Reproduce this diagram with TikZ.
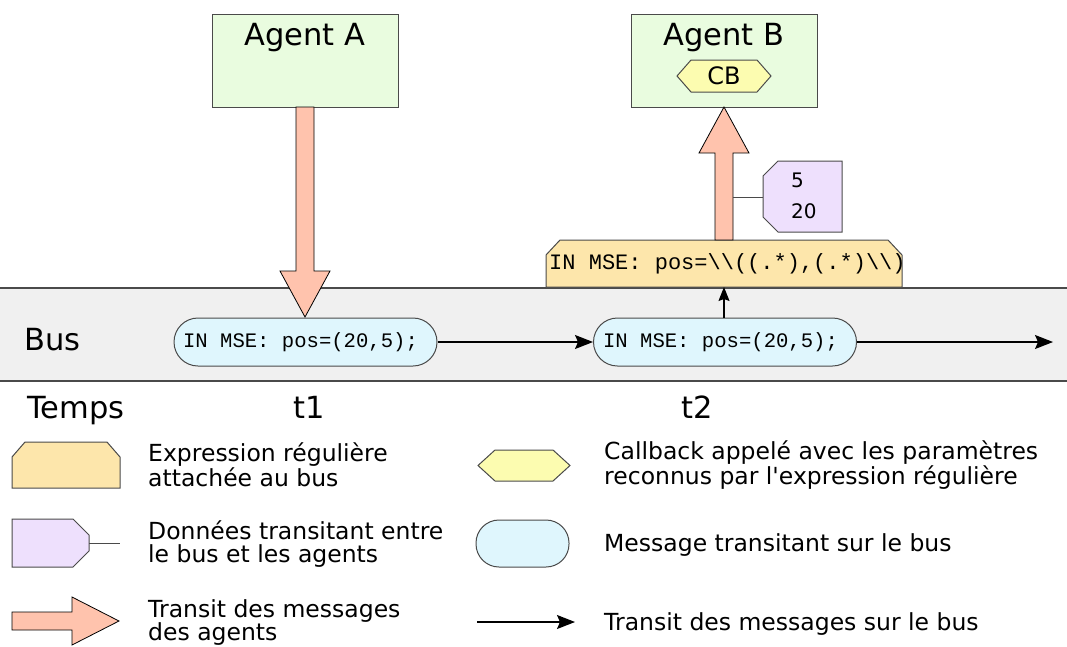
\documentclass[tikz,border=0pt]{standalone}
\usepackage{fontspec}
\setmainfont{DejaVu Sans}
\setmonofont{Liberation Mono}
\usetikzlibrary{arrows.meta,calc}
\definecolor{agentfill}{HTML}{E9FCDF}
\definecolor{cbfill}{HTML}{FCFCB0}
\definecolor{arrowfill}{HTML}{FFC3AD}
\definecolor{tagfill}{HTML}{EEE0FD}
\definecolor{regexfill}{HTML}{FDE6AB}
\definecolor{msgfill}{HTML}{DFF6FD}
\definecolor{busfill}{HTML}{F0F0F0}
\definecolor{bordc}{HTML}{4A4A4A}
\begin{document}
\begin{tikzpicture}[x=1pt,y=-1pt,
  box/.style={draw=bordc, line width=1pt},
  agent/.style={box, fill=agentfill, minimum width=186pt, minimum height=93pt, inner sep=0pt},
  msg/.style={box, fill=msgfill, rounded corners=24pt, minimum width=263pt, minimum height=48pt, inner sep=0pt, font=\ttfamily\fontsize{20.6}{24}\selectfont},
  title/.style={font=\fontsize{30.5}{36}\selectfont, inner sep=0pt},
  legtxt/.style={font=\fontsize{23.5}{23}\selectfont, align=left, anchor=base west, inner sep=0pt},
  flow/.style={-{Stealth[length=18pt,width=14pt,inset=3pt]}, line width=1.3pt},
  bigarr/.style={draw=black, line width=0.8pt, fill=arrowfill},
  cbsty/.style={box, fill=cbfill},
  tagsty/.style={box, fill=tagfill},
  regexsty/.style={box, fill=regexfill}
]
\useasboundingbox (0,0) rectangle (1067,646);

% bus band
\fill[busfill] (0,288) rectangle (1067,381);
\draw[bordc, line width=1.2pt] (0,288) -- (1067,288);
\draw[bordc, line width=1.2pt] (0,381) -- (1067,381);
\node[title, anchor=base west] (bus) at (24,350) {Bus};

% agents
\node[agent] (A) at (305,60.5) {};
\node[title, anchor=base] (labA) at (305,45) {Agent A};
\node[agent] (B) at (724,60.5) {};
\node[title, anchor=base] (labB) at (724,45) {Agent B};
\path[cbsty] (677,76) -- (691,60) -- (757,60) -- (771,76) -- (757,92) -- (691,92) -- cycle;
\node[font=\fontsize{24}{28}\selectfont, inner sep=0pt, anchor=base] (cb) at (724,84) {CB};

% messages
\node[msg] (m1) at (305.5,342) {IN MSE: pos=(20,5);\hspace*{10pt}};
\node[msg] (m2) at (725,342) {IN MSE: pos=(20,5);\hspace*{9pt}};
\coordinate (busend) at (1053,342);
\draw[flow] (m1.east) -- (m2.west);
\draw[flow] (m2.east) -- (busend);

% regex
\path[regexsty] (546,287) -- (546,255) -- (560,240) -- (888,240) -- (902,255) -- (902,287) -- cycle;
\node[font=\ttfamily\fontsize{22}{26}\selectfont, anchor=base west, inner sep=0pt] (rx) at (549,269) {IN MSE: pos=\textbackslash\textbackslash((.*),(.*)\textbackslash\textbackslash)};
\coordinate (rxb) at (724,287);
\draw[-{Stealth[length=14pt,width=11pt,inset=2pt]}, line width=1.2pt] (m2.north -| rxb) -- (rxb);

% big arrows
\path[bigarr] (296,107) -- (296,271) -- (280,271) -- (305,317) -- (330,271) -- (314,271) -- (314,107) -- cycle;
\path[bigarr] (715,240) -- (715,153) -- (699,153) -- (724,107) -- (749,153) -- (733,153) -- (733,240) -- cycle;

% data tag
\path[tagsty] (842,161) -- (778,161) -- (763,176) -- (763,217) -- (778,232) -- (842,232) -- cycle;
\node[font=\fontsize{20}{31}\selectfont, align=left, anchor=base west, inner sep=0pt] (tag) at (791,218) {5\\20};
\coordinate (shaftR) at (733,197);
\coordinate (tagW) at (763,197);
\draw[bordc, line width=1pt] (shaftR) -- (tagW);

% time labels
\node[title, anchor=base west] (temps) at (27,418) {Temps};
\node[title, anchor=base] (t1) at (309,418) {t1};
\node[title, anchor=base] (t2) at (697,418) {t2};

% legend shapes
\path[regexsty] (12,488) -- (12,457) -- (25,442) -- (107,442) -- (120,457) -- (120,488) -- cycle;
\path[tagsty] (12,519) -- (73,519) -- (89,535) -- (89,551) -- (73,567) -- (12,567) -- cycle;
\coordinate (lt1) at (89,543);
\coordinate (lt2) at (120,543);
\draw[bordc, line width=1pt] (lt1) -- (lt2);
\path[bigarr] (12,612) -- (72,612) -- (72,597) -- (119,621) -- (72,645) -- (72,630) -- (12,630) -- cycle;
\path[cbsty] (478,465.5) -- (495,450) -- (553,450) -- (570,465.5) -- (553,481) -- (495,481) -- cycle;
\node[msg, minimum width=93pt, minimum height=47pt, rounded corners=23pt] (lmsg) at (522.5,543.5) {};
\coordinate (la1) at (477,622);
\coordinate (la2) at (575,622);
\draw[flow] (la1) -- (la2);

% legend texts (base = baseline of last line)
\node[legtxt] (l1) at (148,486) {Expression régulière\\attachée au bus};
\node[legtxt] (l2) at (604,484) {Callback appelé avec les paramètres\\reconnus par l\textquotesingle expression régulière};
\node[legtxt] (l3) at (148,562) {Données transitant entre\\le bus et les agents};
\node[legtxt] (l4) at (604,551) {Message transitant sur le bus};
\node[legtxt] (l5) at (148,640) {Transit des messages\\des agents};
\node[legtxt] (l6) at (604,630) {Transit des messages sur le bus};
\end{tikzpicture}
\end{document}
